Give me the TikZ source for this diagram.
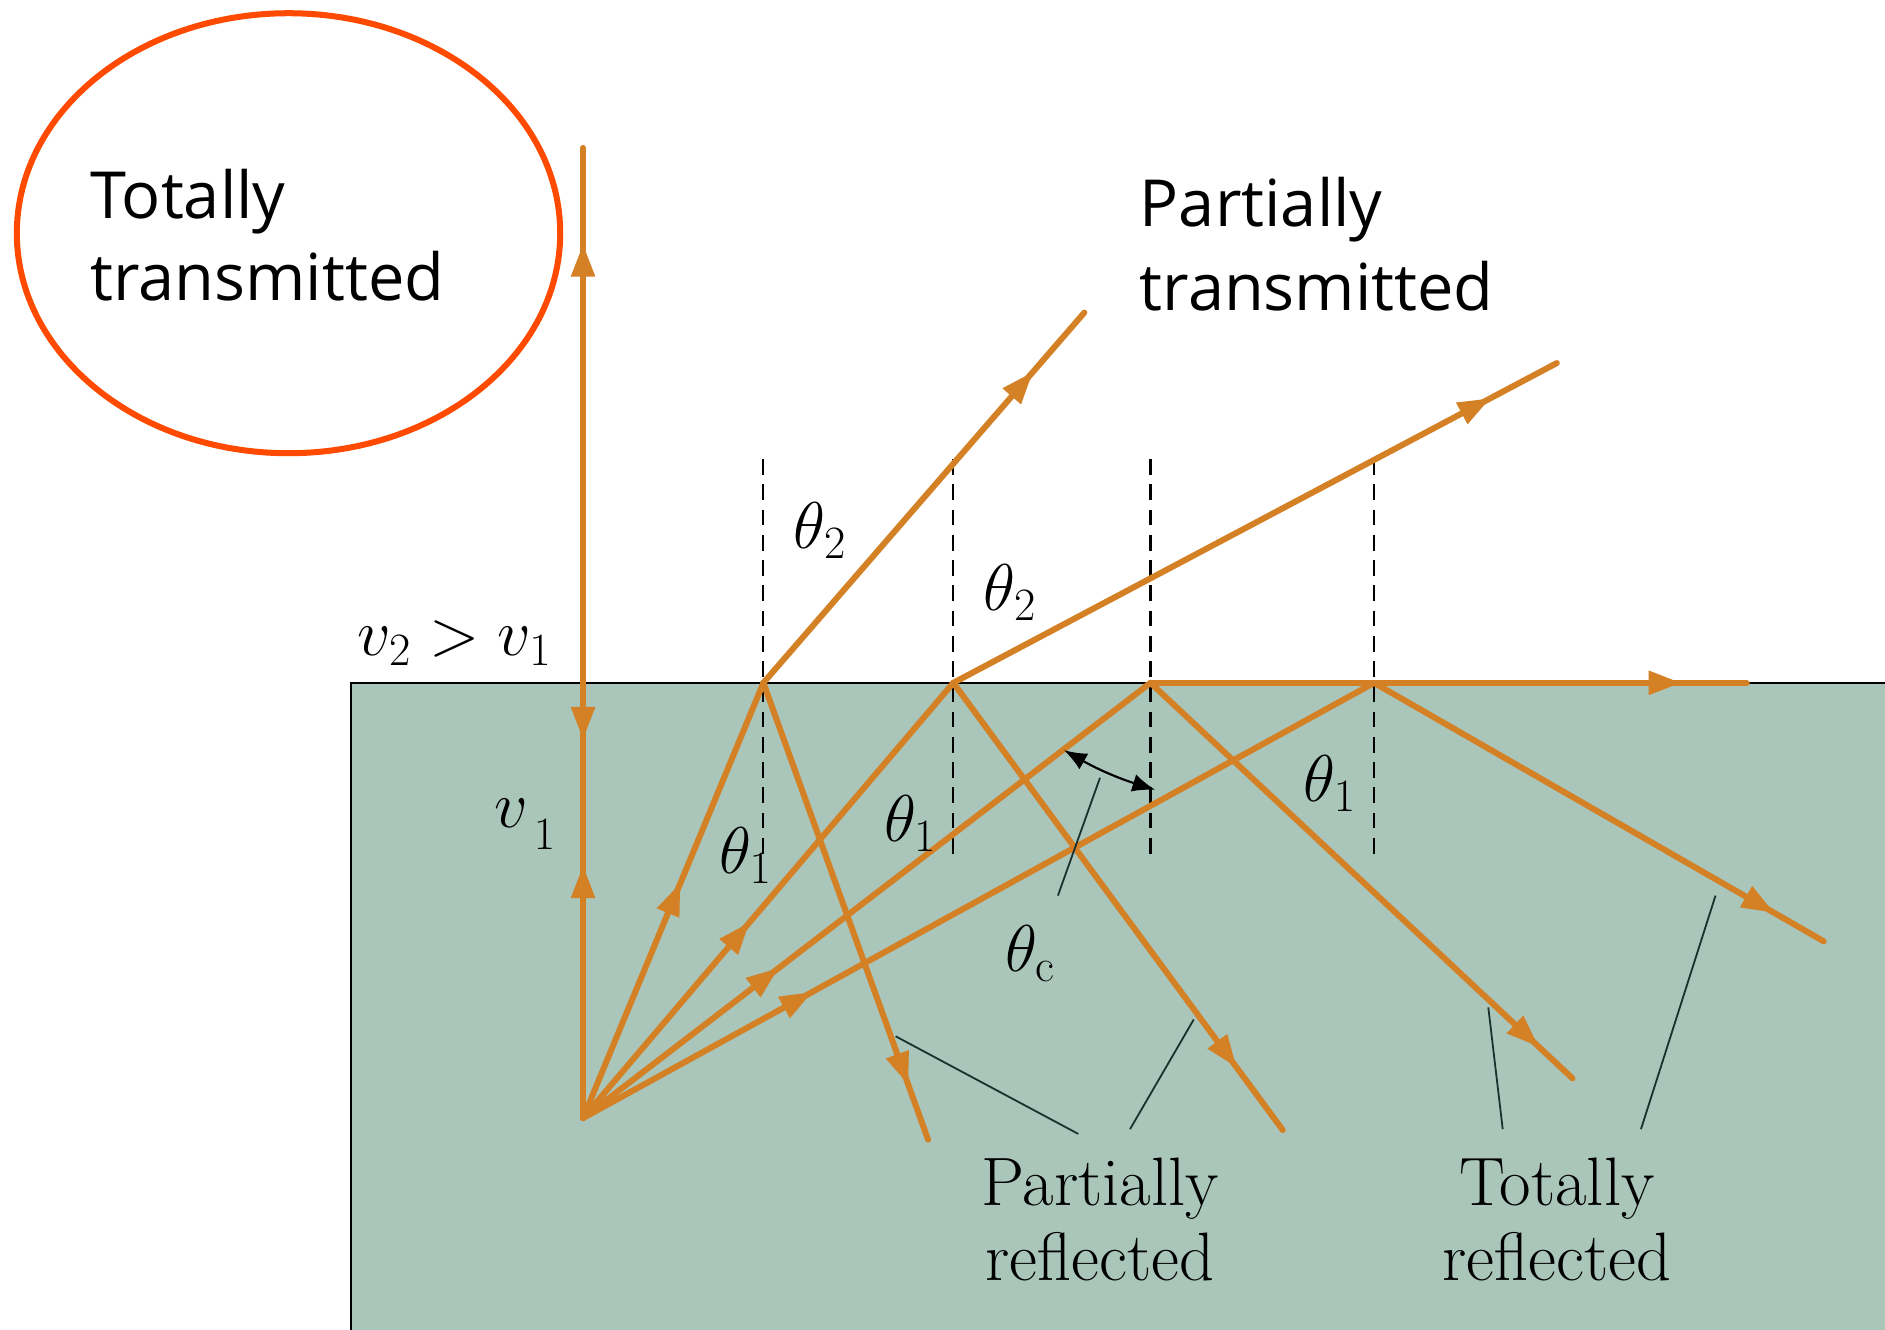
\documentclass[tikz,border=0pt]{standalone}
\usepackage{fix-cm}
\usepackage{fontspec}
\newfontfamily\handfont{Open Sans}
\usetikzlibrary{arrows.meta,decorations.markings,calc}

\definecolor{raycol}{RGB}{212,128,36}
\definecolor{glasscol}{RGB}{170,197,186}
\definecolor{ringcol}{RGB}{255,74,0}
\definecolor{leadcol}{RGB}{25,50,45}

\tikzset{
  ray/.style={raycol, line width=5pt, line cap=round},
  mid arrow/.style={postaction={decorate, decoration={markings,
      mark=at position #1 with {\arrow{Triangle[length=27pt,width=19pt]}}}}},
  normal/.style={black, line width=1.8pt, dash pattern=on 13pt off 8pt},
  leader/.style={leadcol, line width=1.5pt},
  serif label/.style={anchor=base, inner sep=0pt, font=\fontsize{57}{62}\selectfont},
  math label/.style={anchor=base, inner sep=0pt, font=\fontsize{55}{60}\selectfont},
  hand label/.style={anchor=base west, inner sep=0pt, font=\handfont\fontsize{54}{68}\selectfont},
}

\begin{document}
\begin{tikzpicture}[x=1pt,y=-1pt]
\useasboundingbox (0,0) rectangle (1568,1106);
% medium
\fill[glasscol] (292,568) rectangle (1568,1106);
\draw[line width=2pt] (1568,568) -- (292,568) -- (292,1106);
% source and hit points
\coordinate (src) at (485,930);
\coordinate (p0) at (485,568);
\coordinate (p1) at (635,568);
\coordinate (p2) at (793,568);
\coordinate (p3) at (957,568);
\coordinate (p4) at (1143,568);
\coordinate (t0) at (485,123);
\coordinate (t1) at (902,260);
\coordinate (t2) at (1295,302);
\coordinate (t3) at (1453,568);
\coordinate (r1) at (772,948);
\coordinate (r2) at (1067,940);
\coordinate (r3) at (1308,897);
\coordinate (r4) at (1517,783);
% normals
\foreach \p in {p1,p2,p3,p4}
  \draw[normal] ($(\p)+(0,-186)$) -- ($(\p)+(0,144)$);
% incident rays
\draw[ray, mid arrow=0.58] (src) -- (p0);
\foreach \p/\f in {p1/0.54, p2/0.45, p3/0.345, p4/0.29}
  \draw[ray, mid arrow=\f] (src) -- (\p);
% transmitted rays
\draw[ray, mid arrow=0.82] (p0) -- (t0);
\draw[ray, mid arrow=0.84] (p1) -- (t1);
\draw[ray, mid arrow=0.89] (p2) -- (t2);
\draw[ray, mid arrow=0.89] (p3) -- (t3);
% reflected rays
\draw[ray, mid arrow=0.13] (p0) -- (src);
\draw[ray, mid arrow=0.88] (p1) -- (r1);
\draw[ray, mid arrow=0.86] (p2) -- (r2);
\draw[ray, mid arrow=0.92] (p3) -- (r3);
\draw[ray, mid arrow=0.89] (p4) -- (r4);
% angle labels
\node[math label] (th2a) at (682,456) {$\theta_2$};
\node[math label] (th2b) at (840,508) {$\theta_2$};
\node[math label] (th1a) at (620,727) {$\theta_1$};
\node[math label] (th1b) at (757,700) {$\theta_1$};
\node[math label] (th1c) at (1106,667) {$\theta_1$};
\node[math label] (thc) at (857,808) {$\theta_{\mathrm{c}}$};
\node[math label] (vv) at (378,545) {$v_2>v_1$};
\node[math label] (vone) at (437,688) {$v_{\,\lower10pt\hbox{$\scriptstyle 1$}}$};
% critical angle marker
\coordinate (ca) at (885,624);
\coordinate (cb) at (961,657);
\coordinate (cl) at (880,745);
\coordinate (cm) at (915,647);
\draw[black, line width=1.8pt, {Latex[length=19pt,width=15pt]}-{Latex[length=19pt,width=15pt]}] (ca) to[bend right=6] (cb);
\draw[leader] (cl) -- (cm);
% bottom labels
\node[serif label] (pr1) at (915,1003) {Partially};
\node[serif label] (pr2) at (915,1065) {reflected};
\node[serif label] (tr1) at (1295,1003) {Totally};
\node[serif label] (tr2) at (1295,1065) {reflected};
\coordinate (l1) at (745,862);
\coordinate (l2) at (993,848);
\coordinate (l3) at (1238,838);
\coordinate (l4) at (1427,745);
\draw[leader] (l1) -- ([xshift=-18pt,yshift=20pt]pr1.north);
\draw[leader] (l2) -- ([xshift=25pt,yshift=24pt]pr1.north);
\draw[leader] (l3) -- ([xshift=-45pt,yshift=24pt]tr1.north);
\draw[leader] (l4) -- ([xshift=70pt,yshift=24pt]tr1.north);
% hand-written notes
\draw[ringcol, line width=5pt] (240,194) ellipse [x radius=226pt, y radius=183pt];
\node[hand label] (tt1) at (75,182) {Totally};
\node[hand label] (tt2) at (75,250) {transmitted};
\node[hand label] (pt1) at (948,188) {Partially};
\node[hand label] (pt2) at (948,258) {transmitted};
\end{tikzpicture}
\end{document}
